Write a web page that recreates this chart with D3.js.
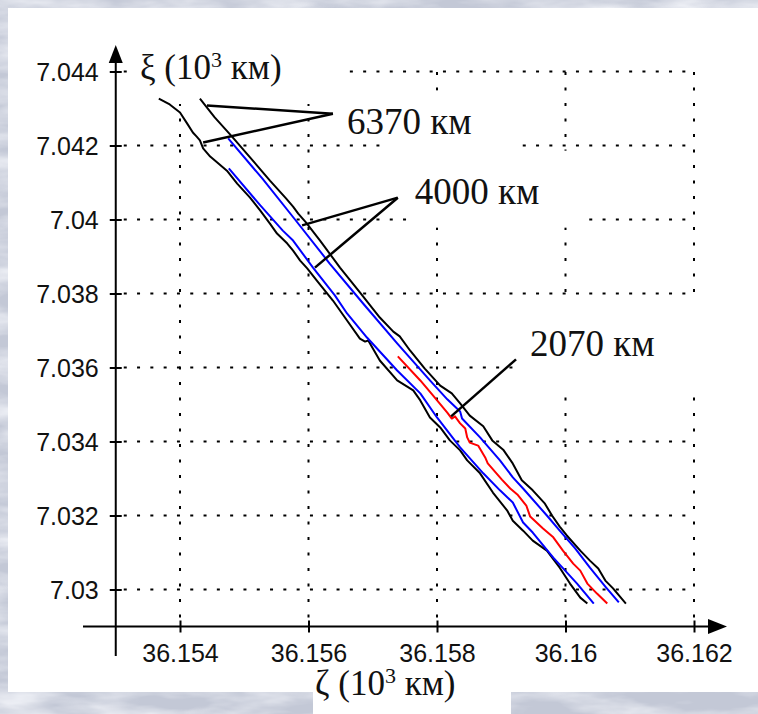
<!DOCTYPE html>
<html>
<head>
<meta charset="utf-8">
<script src="https://cdn.jsdelivr.net/npm/d3@7"></script>
<style>
  html, body { margin: 0; padding: 0; background: #cdd1dc; }
  svg { display: block; }
</style>
</head>
<body>
<svg id="chart" width="758" height="714"></svg>
<script>
// Axis ticks (ζ and ξ in 10^3 km)
const zetaTicks = [36.154, 36.156, 36.158, 36.160, 36.162];
const zetaTickLabels = ["36.154", "36.156", "36.158", "36.16", "36.162"];
const xiTicks = [7.030, 7.032, 7.034, 7.036, 7.038, 7.040, 7.042, 7.044];
const xiTickLabels = ["7.03", "7.032", "7.034", "7.036", "7.038", "7.04", "7.042", "7.044"];

// Trajectory bands, [ζ, ξ] pairs
const outer6370Right = [
  [36.15431, 7.04327], [36.15454, 7.04276], [36.15481, 7.04224], [36.15509, 7.04168],
  [36.15540, 7.04105], [36.15565, 7.04057], [36.15576, 7.04035], [36.15584, 7.04016],
  [36.15596, 7.03992], [36.15618, 7.03943], [36.15649, 7.03870], [36.15680, 7.03803],
  [36.15711, 7.03735], [36.15732, 7.03697], [36.15742, 7.03684], [36.15758, 7.03646],
  [36.15781, 7.03597], [36.15805, 7.03551], [36.15823, 7.03530], [36.15836, 7.03503],
  [36.15851, 7.03470], [36.15872, 7.03441], [36.15886, 7.03403], [36.15903, 7.03378],
  [36.15917, 7.03343], [36.15932, 7.03295], [36.15949, 7.03268], [36.15968, 7.03232],
  [36.15979, 7.03200], [36.15991, 7.03170], [36.16002, 7.03146], [36.16023, 7.03105],
  [36.16038, 7.03078], [36.16051, 7.03057], [36.16062, 7.03024], [36.16074, 7.03003],
  [36.16094, 7.02962]
];
const outer6370Left = [
  [36.15367, 7.04327], [36.15384, 7.04311], [36.15400, 7.04289], [36.15412, 7.04257],
  [36.15420, 7.04235], [36.15426, 7.04224], [36.15431, 7.04214], [36.15436, 7.04192],
  [36.15447, 7.04170], [36.15458, 7.04154], [36.15473, 7.04132], [36.15489, 7.04097],
  [36.15509, 7.04059], [36.15525, 7.04024], [36.15540, 7.03989], [36.15551, 7.03962],
  [36.15567, 7.03935], [36.15576, 7.03916], [36.15587, 7.03889], [36.15598, 7.03868],
  [36.15613, 7.03835], [36.15638, 7.03781], [36.15660, 7.03727], [36.15680, 7.03678],
  [36.15688, 7.03670], [36.15693, 7.03673], [36.15711, 7.03619], [36.15738, 7.03565],
  [36.15763, 7.03538], [36.15774, 7.03511], [36.15789, 7.03465], [36.15805, 7.03438],
  [36.15820, 7.03403], [36.15836, 7.03376], [36.15847, 7.03349], [36.15867, 7.03314],
  [36.15887, 7.03262], [36.15909, 7.03214], [36.15918, 7.03186], [36.15934, 7.03159],
  [36.15949, 7.03132], [36.15971, 7.03105], [36.15991, 7.03059], [36.16007, 7.03016],
  [36.16023, 7.02978], [36.16034, 7.02962]
];
const mid4000Right = [
  [36.15475, 7.04219], [36.15528, 7.04111], [36.15579, 7.04000], [36.15633, 7.03881],
  [36.15685, 7.03773], [36.15738, 7.03665], [36.15789, 7.03565], [36.15816, 7.03514],
  [36.15836, 7.03481], [36.15839, 7.03462], [36.15867, 7.03411], [36.15898, 7.03349],
  [36.15918, 7.03303], [36.15934, 7.03273], [36.15971, 7.03200], [36.15991, 7.03159],
  [36.16015, 7.03111], [36.16038, 7.03059], [36.16062, 7.03008], [36.16083, 7.02965]
];
const mid4000Left = [
  [36.15476, 7.04138], [36.15525, 7.04038], [36.15560, 7.03970], [36.15576, 7.03943],
  [36.15607, 7.03870], [36.15641, 7.03795], [36.15660, 7.03746], [36.15691, 7.03681],
  [36.15738, 7.03592], [36.15774, 7.03530], [36.15800, 7.03465], [36.15836, 7.03384],
  [36.15872, 7.03314], [36.15898, 7.03268], [36.15918, 7.03235], [36.15934, 7.03181],
  [36.15949, 7.03154], [36.15981, 7.03086], [36.16018, 7.03016], [36.16044, 7.02962]
];
const inner2070 = [
  [36.15739, 7.03630], [36.15774, 7.03565], [36.15794, 7.03524], [36.15816, 7.03478],
  [36.15823, 7.03462], [36.15828, 7.03468], [36.15836, 7.03449], [36.15844, 7.03435],
  [36.15847, 7.03411], [36.15851, 7.03397], [36.15864, 7.03389], [36.15875, 7.03357],
  [36.15879, 7.03341], [36.15901, 7.03297], [36.15914, 7.03273], [36.15925, 7.03257],
  [36.15939, 7.03227], [36.15945, 7.03197], [36.15965, 7.03165], [36.15981, 7.03141],
  [36.15996, 7.03105], [36.16012, 7.03070], [36.16023, 7.03051], [36.16034, 7.03016],
  [36.16049, 7.02989], [36.16065, 7.02962]
];

const curves = [
  { pts: outer6370Left,  color: "#000000" },
  { pts: outer6370Right, color: "#000000" },
  { pts: mid4000Left,    color: "#0000ff" },
  { pts: mid4000Right,   color: "#0000ff" },
  { pts: inner2070,      color: "#ff0000" }
];

// Callouts: label text, joint point, and the curve points each leader reaches
const callouts = [
  { text: "6370", joint: [36.15638, 7.04286], targets: [[36.15442, 7.04308], [36.15436, 7.04208]],
    textOff: [14, 20], box: [47, -23, 138, 62] },
  { text: "4000", joint: [36.15739, 7.04059], targets: [[36.15590, 7.03984], [36.15610, 7.03870]],
    textOff: [17, 6], box: [15, -47, 174, 77] },
  { text: "2070", joint: [36.15923, 7.03622], targets: [[36.15822, 7.03468]],
    textOff: [14, -3], box: [2, -59, 182, 85] }
];

const svg = d3.select("#chart");

// textured backdrop
const defs = svg.append("defs");
const f = defs.append("filter").attr("id", "marble").attr("x", 0).attr("y", 0).attr("width", 1).attr("height", 1);
f.append("feTurbulence").attr("type", "fractalNoise").attr("baseFrequency", "0.012 0.045")
  .attr("numOctaves", 4).attr("seed", 7).attr("result", "n");
f.append("feColorMatrix").attr("in", "n").attr("type", "matrix")
  .attr("values", "0 0 0 0 0.96  0 0 0 0 0.97  0 0 0 0 1  1.6 0 0 0 -0.55");
svg.append("rect").attr("width", 758).attr("height", 714).attr("fill", "#c3c8d6");
svg.append("rect").attr("width", 758).attr("height", 714).attr("filter", "url(#marble)");

// white sheet
svg.append("rect").attr("x", 8).attr("y", 8).attr("width", 750).attr("height", 684).attr("fill", "#fff");

const x = d3.scaleLinear().domain([36.154, 36.162]).range([180, 694]);
const y = d3.scaleLinear().domain([7.030, 7.044]).range([589.5, 71.5]);

const xAxisY = y(7.029);
const yAxisX = x(36.153);

// dotted grid
const grid = svg.append("g").attr("stroke", "#000").attr("stroke-width", 2);
grid.selectAll("line.h").data(xiTicks).join("line")
  .attr("x1", yAxisX).attr("x2", x(36.162) + 1)
  .attr("y1", d => y(d)).attr("y2", d => y(d))
  .attr("stroke-dasharray", "3,10.3").attr("stroke-dashoffset", -8);
grid.selectAll("line.v").data(zetaTicks).join("line")
  .attr("x1", d => x(d)).attr("x2", d => x(d))
  .attr("y1", xAxisY).attr("y2", y(7.044) - 1)
  .attr("stroke-dasharray", "3,12.5").attr("stroke-dashoffset", -9);

// white plates behind the labels
svg.append("rect").attr("x", 133).attr("y", 40).attr("width", 207).attr("height", 64).attr("fill", "#fff");
callouts.forEach(c => {
  const jx = x(c.joint[0]), jy = y(c.joint[1]);
  svg.append("rect").attr("x", jx + c.box[0]).attr("y", jy + c.box[1])
    .attr("width", c.box[2]).attr("height", c.box[3]).attr("fill", "#fff");
});
svg.append("rect").attr("x", 313).attr("y", 669).attr("width", 198).attr("height", 45).attr("fill", "#fff");

// axes
const tickFont = "'Liberation Sans', Arial, sans-serif";
const gx = svg.append("g").attr("transform", `translate(0,${xAxisY})`)
  .call(d3.axisBottom(x).tickValues(zetaTicks).tickFormat((d, i) => zetaTickLabels[i])
    .tickSizeInner(6).tickSizeOuter(0).tickPadding(12));
gx.select(".domain").remove();
gx.selectAll(".tick line").attr("y1", -6).attr("y2", 6).attr("stroke", "#000").attr("stroke-width", 2);
gx.selectAll(".tick text").attr("font-family", tickFont).attr("font-size", 25).attr("fill", "#111");

const gy = svg.append("g").attr("transform", `translate(${yAxisX},0)`)
  .call(d3.axisLeft(y).tickValues(xiTicks).tickFormat((d, i) => xiTickLabels[i])
    .tickSizeInner(6).tickSizeOuter(0).tickPadding(11));
gy.select(".domain").remove();
gy.selectAll(".tick line").attr("x1", -6).attr("x2", 6).attr("stroke", "#000").attr("stroke-width", 2);
gy.selectAll(".tick text").attr("font-family", tickFont).attr("font-size", 25).attr("fill", "#111")
  .attr("dy", "0.36em");

// axis lines with arrowheads
svg.append("line").attr("x1", 83).attr("x2", 712).attr("y1", xAxisY).attr("y2", xAxisY)
  .attr("stroke", "#000").attr("stroke-width", 2);
svg.append("path").attr("d", `M727,${xAxisY} L708,${xAxisY - 7.5} L708,${xAxisY + 7.5} Z`).attr("fill", "#000");
svg.append("line").attr("x1", yAxisX).attr("x2", yAxisX).attr("y1", 656).attr("y2", 60)
  .attr("stroke", "#000").attr("stroke-width", 2);
svg.append("path").attr("d", `M${yAxisX},45 L${yAxisX - 7},63 L${yAxisX + 7},63 Z`).attr("fill", "#000");

// trajectory curves
const line = d3.line().x(d => x(d[0])).y(d => y(d[1]));
svg.append("g").selectAll("path").data(curves).join("path")
  .attr("d", d => line(d.pts)).attr("fill", "none")
  .attr("stroke", d => d.color).attr("stroke-width", 2).attr("stroke-linejoin", "round");

// callout leaders and labels
const serif = "'Liberation Serif', 'Times New Roman', serif";
callouts.forEach(c => {
  const jx = x(c.joint[0]), jy = y(c.joint[1]);
  c.targets.forEach(t => {
    svg.append("line").attr("x1", jx).attr("y1", jy).attr("x2", x(t[0])).attr("y2", y(t[1]))
      .attr("stroke", "#000").attr("stroke-width", 2.5);
  });
  svg.append("text").attr("x", jx + c.textOff[0]).attr("y", jy + c.textOff[1])
    .attr("font-family", serif).attr("font-size", 37).attr("fill", "#111")
    .text(c.text + " км");
});

// axis titles
function axisTitle(sym, tx, ty) {
  const t = svg.append("text").attr("x", tx).attr("y", ty)
    .attr("font-family", serif).attr("font-size", 35).attr("fill", "#111");
  t.append("tspan").text(sym + " (10");
  t.append("tspan").attr("font-size", 22).attr("dy", -12).text("3");
  t.append("tspan").attr("dy", 12).text(" км)");
}
axisTitle("ξ", 140, 79);
axisTitle("ζ", 315, 695);
</script>
</body>
</html>
